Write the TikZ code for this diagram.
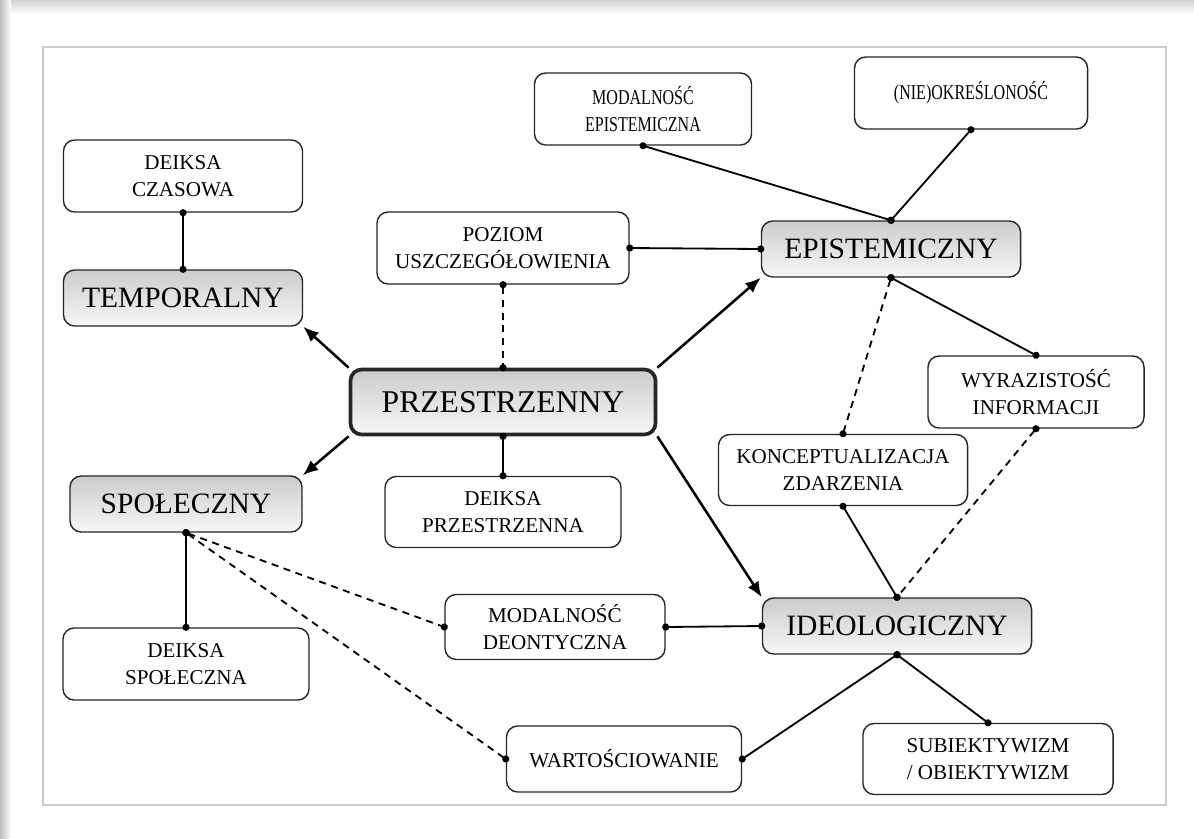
\documentclass[tikz,border=0pt]{standalone}
\usepackage{fontspec}
\setmainfont{LiberationSerif}[Extension=.ttf,UprightFont=*-Regular,BoldFont=*-Bold]
\newfontfamily\narrowfont{LiberationSerif}[Extension=.ttf,UprightFont=*-Regular,FakeStretch=0.76]
\usetikzlibrary{arrows.meta,positioning}

\begin{document}
\begin{tikzpicture}[x=0.025cm,y=-0.025cm,
		leaf/.style={rectangle,draw=black!85,line width=1pt,rounded corners=8pt,fill=white,align=center,
			font=\fontsize{15}{19}\selectfont,minimum height=1.8cm,inner sep=2pt},
		core/.style={leaf,top color=black!20,bottom color=black!3,font=\fontsize{21}{25}\selectfont,minimum height=1.4cm},
		marrow/.style={-{Latex[length=11pt,width=9pt]},line width=1.8pt},
		mline/.style={{Circle[length=5pt]}-{Circle[length=5pt]},line width=1.3pt,
			shorten <=-2.5pt,shorten >=-2.5pt},
		mdash/.style={mline,dash pattern=on 5pt off 4pt}]
		\useasboundingbox (0,0) rectangle (1194,838);
		% page with its shadow and frame
		\fill [white] (0,0) rectangle (1194,838);
		\shade [top color=black!18,bottom color=white] (0,0) rectangle (1194,14);
		\shade [left color=black!25,right color=white] (0,0) rectangle (11,838);
		\draw [black!20,line width=1pt] (43,47) rectangle (1166,805);

		\node [leaf,minimum width=5.975cm] (deiksa-czasowa) at (183,176) {DEIKSA\\CZASOWA};
		\node [core,minimum width=5.975cm] (temporalny) at (183,298) {TEMPORALNY};
		\node [leaf,minimum width=6.3cm] (poziom) at (503,248) {POZIOM\\USZCZEGÓŁOWIENIA};
		\node [core,line width=2.6pt,minimum width=7.625cm,minimum height=1.625cm,
			font=\fontsize{22.5}{26}\selectfont] (przestrzenny) at (503,402) {PRZESTRZENNY};
		\node [leaf,minimum width=5.425cm,font=\narrowfont\fontsize{15}{19}\selectfont] (modalnosc-epist) at (643,109) {MODALNOŚĆ\\EPISTEMICZNA};
		\node [leaf,minimum width=5.825cm,font=\narrowfont\fontsize{15}{19}\selectfont] (okreslonosc) at (971,93) {(NIE)OKREŚLONOŚĆ};
		\node [core,minimum width=6.475cm] (epistemiczny) at (891,249) {EPISTEMICZNY};
		\node [leaf,minimum width=5.4cm] (wyrazistosc) at (1036,392) {WYRAZISTOŚĆ\\INFORMACJI};
		\node [leaf,minimum width=6.225cm,minimum height=1.775cm] (konceptualizacja) at (843,470) {KONCEPTUALIZACJA\\ZDARZENIA};
		\node [core,minimum width=6.725cm] (ideologiczny) at (897,626) {IDEOLOGICZNY};
		\node [leaf,minimum width=5.9cm,minimum height=1.775cm] (deiksa-przestrzenna) at (503,512) {DEIKSA\\PRZESTRZENNA};
		\node [core,minimum width=5.8cm] (spoleczny) at (186,504) {SPOŁECZNY};
		\node [leaf,minimum width=6.15cm] (deiksa-spoleczna) at (186,664) {DEIKSA\\SPOŁECZNA};
		\node [leaf,minimum width=5.5cm,minimum height=1.625cm] (modalnosc-deont) at (555,627) {MODALNOŚĆ\\DEONTYCZNA};
		\node [leaf,minimum width=5.875cm,minimum height=1.65cm] (wartosciowanie) at (624,759) {WARTOŚCIOWANIE};
		\node [leaf,minimum width=6.25cm,minimum height=1.775cm] (subiektywizm) at (988,759) {SUBIEKTYWIZM\\/ OBIEKTYWIZM};

		% arrows from the centre
		\draw [marrow] (przestrzenny.north west) to (temporalny.south east);
		\draw [marrow] (przestrzenny.south west) to (spoleczny.north east);
		\draw [marrow] (przestrzenny.north east) to (epistemiczny.south west);
		\draw [marrow] (przestrzenny.south east) to (ideologiczny.north west);

		% solid links
		\draw [mline] (deiksa-czasowa) to (temporalny);
		\draw [mline] (poziom.east) to (epistemiczny.west);
		\draw [mline] (przestrzenny.south) to (deiksa-przestrzenna.north);
		\draw [mline] (modalnosc-epist.south) to (epistemiczny.north);
		\draw [mline] (okreslonosc.south) to (epistemiczny.north);
		\draw [mline] (epistemiczny.south) to (wyrazistosc.north);
		\draw [mline] (konceptualizacja.south) to (ideologiczny.north);
		\draw [mline] (modalnosc-deont.east) to (ideologiczny.west);
		\draw [mline] (spoleczny.south) to (deiksa-spoleczna.north);
		\draw [mline] (ideologiczny.south) to (wartosciowanie.east);
		\draw [mline] (ideologiczny.south) to (subiektywizm.north);

		% dashed links
		\draw [mdash] (poziom.south) to (przestrzenny.north);
		\draw [mdash] (epistemiczny.south) to (konceptualizacja.north);
		\draw [mdash] (wyrazistosc.south) to (ideologiczny.north);
		\draw [mdash] (spoleczny.south) to (modalnosc-deont.west);
		\draw [mdash] (spoleczny.south) to (wartosciowanie.west);
	\end{tikzpicture}
\end{document}
